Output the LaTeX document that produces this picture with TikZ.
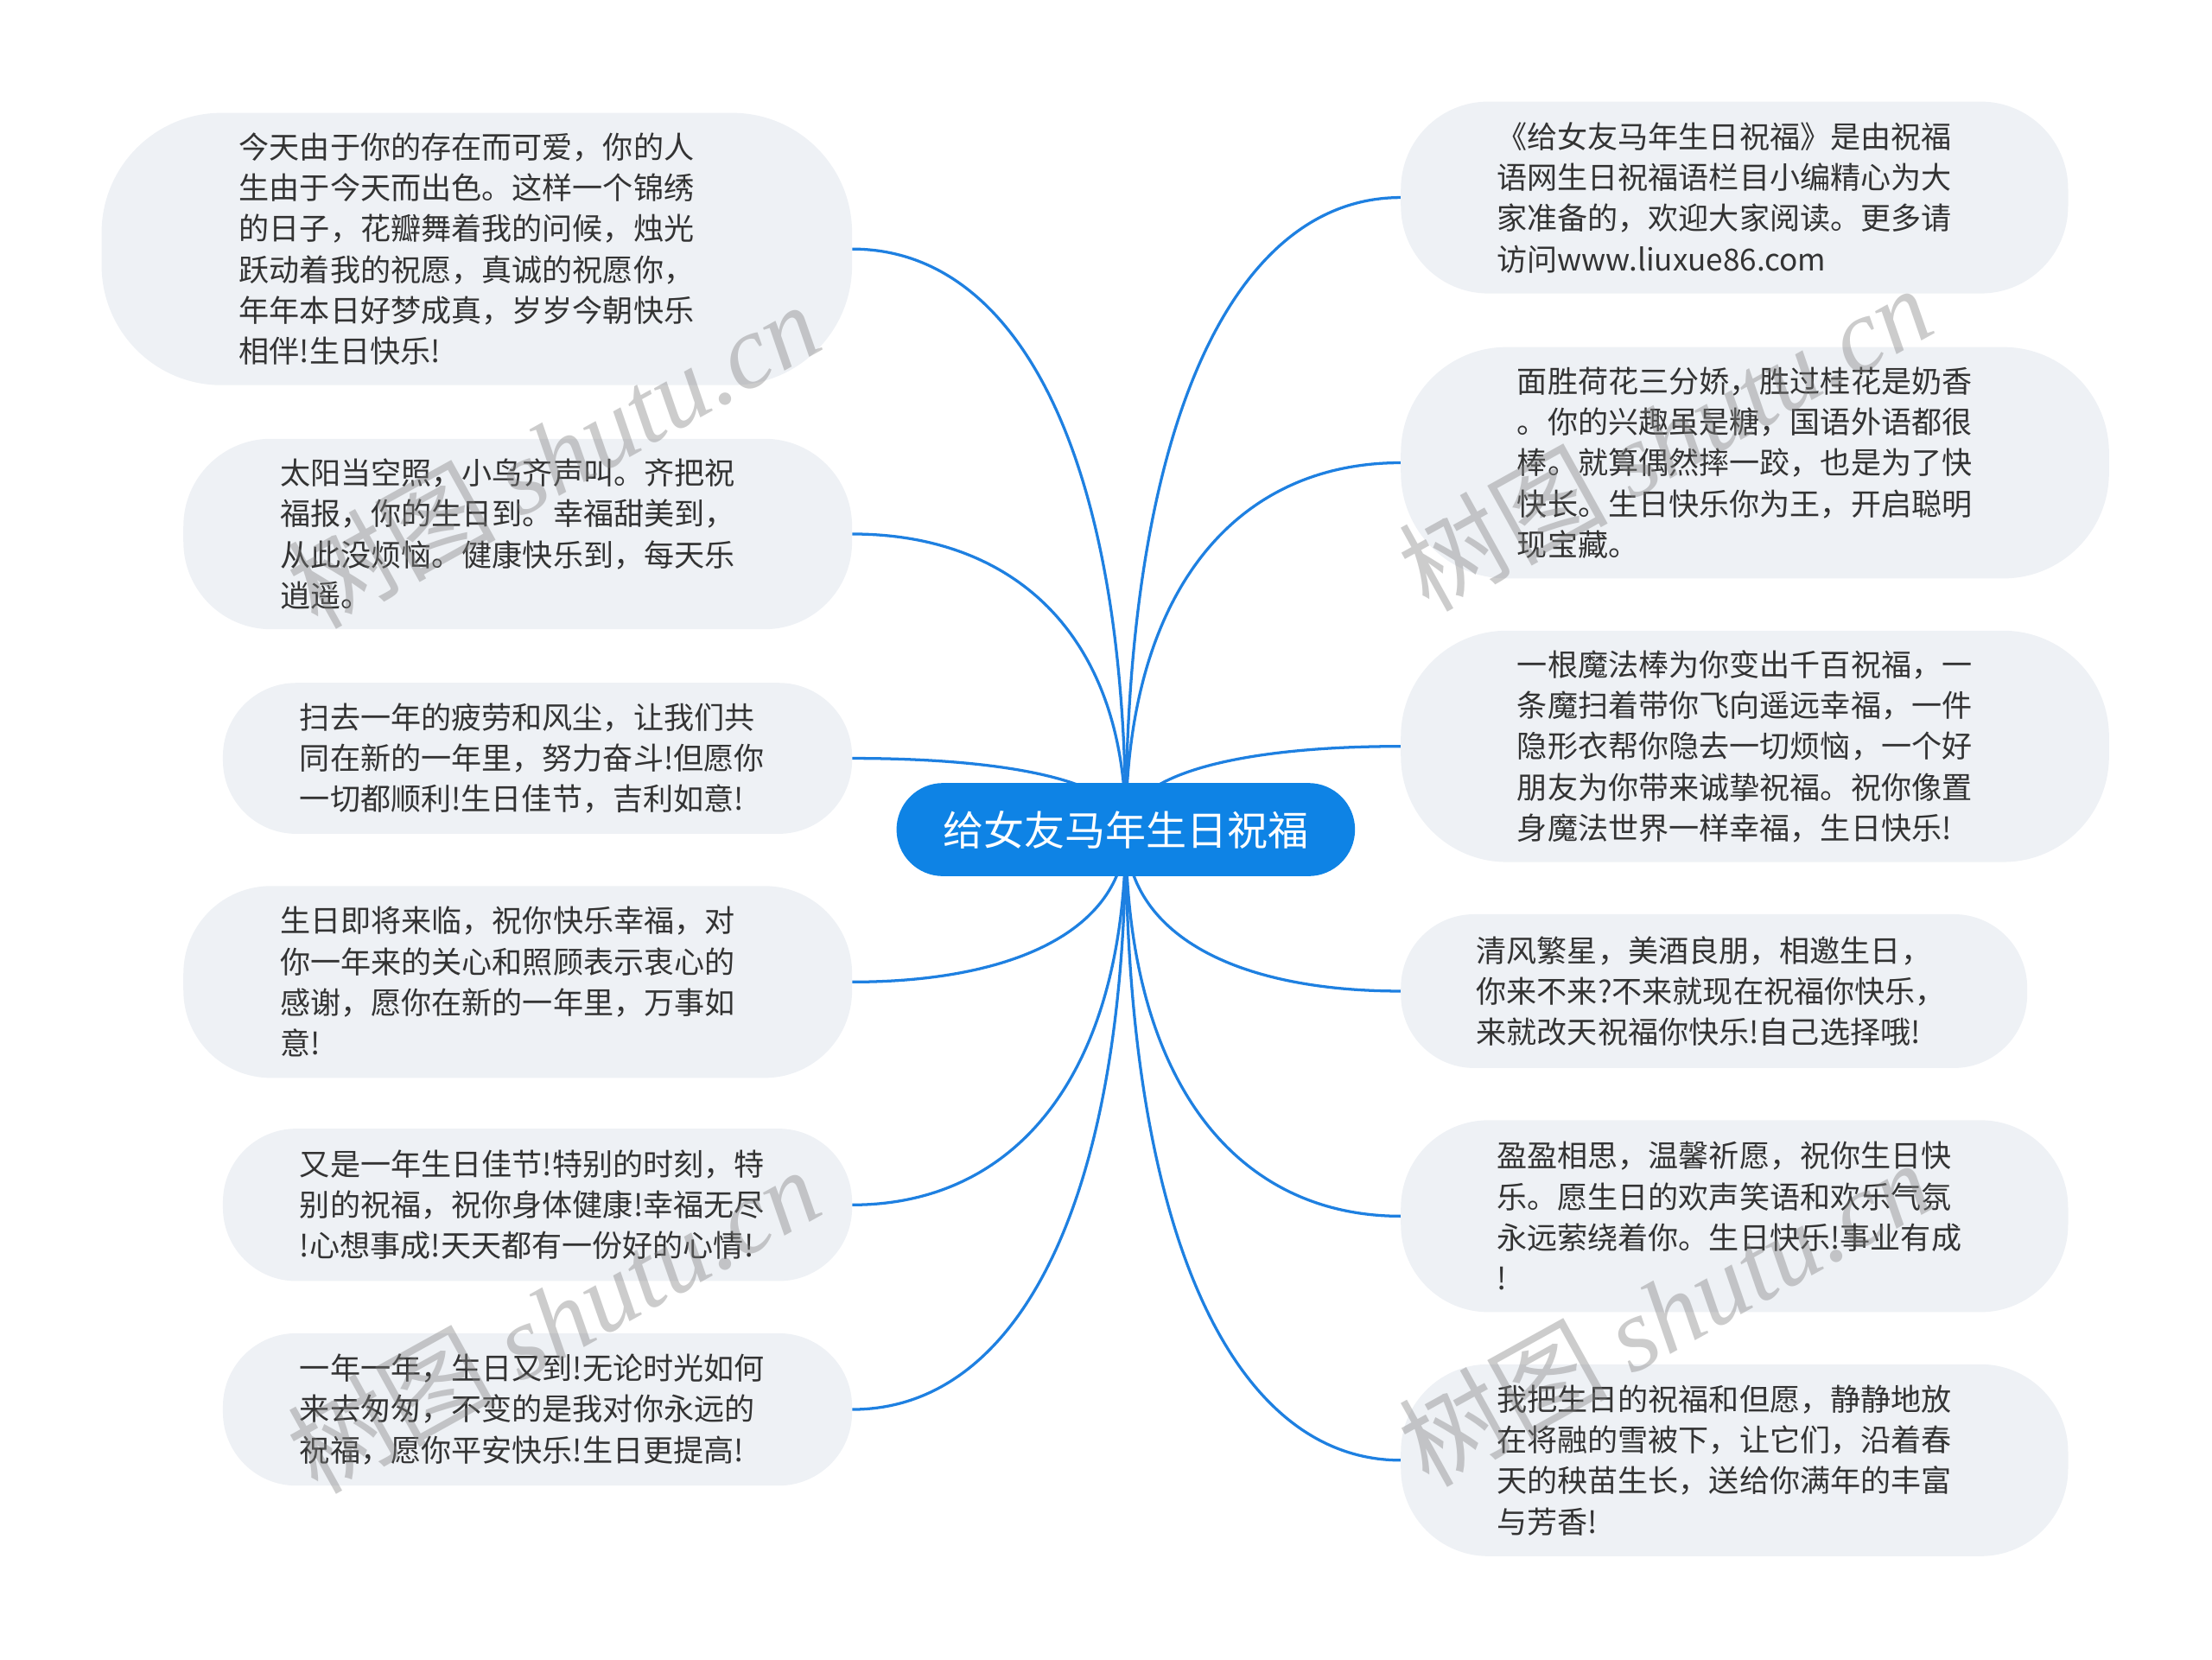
\documentclass[tikz,border=0pt]{standalone}
\usepackage{fontspec}
\setmainfont{Noto Sans CJK SC}
\newfontfamily\wmlatin{Liberation Serif}
\usetikzlibrary{calc}
\definecolor{nodefill}{RGB}{238,241,245}
\definecolor{mainblue}{RGB}{14,131,229}
\definecolor{linkblue}{RGB}{30,128,225}
\definecolor{txt}{RGB}{51,51,51}
\tikzset{
  leaf/.style={draw=none, fill=nodefill, rounded corners=#1, align=left, text=txt, text width=337,
    font=\fontsize{21.5}{29}\selectfont, inner sep=0pt},
  rootbox/.style={fill=mainblue, rounded corners=33, text=white, minimum width=325, minimum height=66,
    font=\fontsize{28.8}{34}\selectfont, inner sep=0pt},
  link/.style={draw=linkblue, line width=2pt},
  wm/.style={text=gray, opacity=0.4, rotate=29, font=\fontsize{74}{80}\selectfont, inner sep=0pt}
}
\newcommand\linkto[1]{\draw[link] (c) .. controls ($(c)!0.65!(c|-#1)$) and ($(#1)!0.6!(#1-|c)$) .. (#1);}
\begin{document}
\begin{tikzpicture}[x=1pt,y=-1pt]
\useasboundingbox (0,0) rectangle (1568,1176);
\coordinate (c) at (798,588);
% left nodes
\node[leaf=85, minimum width=532, minimum height=193] (L1) at (338,176.5) {今天由于你的存在而可爱，你的人\\生由于今天而出色。这样一个锦绣\\的日子，花瓣舞着我的问候，烛光\\跃动着我的祝愿，真诚的祝愿你，\\年年本日好梦成真，岁岁今朝快乐\\相伴!生日快乐!};
\node[leaf=62, minimum width=474, minimum height=135] (L2) at (367,378.5) {太阳当空照，小鸟齐声叫。齐把祝\\福报，你的生日到。幸福甜美到，\\从此没烦恼。健康快乐到，每天乐\\逍遥。};
\node[leaf=52, minimum width=446, minimum height=107] (L3) at (381,537.5) {扫去一年的疲劳和风尘，让我们共\\同在新的一年里，努力奋斗!但愿你\\一切都顺利!生日佳节，吉利如意!};
\node[leaf=62, minimum width=474, minimum height=136] (L4) at (367,696) {生日即将来临，祝你快乐幸福，对\\你一年来的关心和照顾表示衷心的\\感谢，愿你在新的一年里，万事如\\意!};
\node[leaf=52, minimum width=446, minimum height=108] (L5) at (381,854) {又是一年生日佳节!特别的时刻，特\\别的祝福，祝你身体健康!幸福无尽\\!心想事成!天天都有一份好的心情!};
\node[leaf=52, minimum width=446, minimum height=108] (L6) at (381,999) {一年一年，生日又到!无论时光如何\\来去匆匆，不变的是我对你永远的\\祝福，愿你平安快乐!生日更提高!};
% right nodes
\node[leaf=62, minimum width=473, minimum height=136] (R1) at (1229.5,140) {《给女友马年生日祝福》是由祝福\\语网生日祝福语栏目小编精心为大\\家准备的，欢迎大家阅读。更多请\\访问www.liuxue86.com};
\node[leaf=75, minimum width=502, minimum height=164] (R2) at (1244,328) {面胜荷花三分娇，胜过桂花是奶香\\。你的兴趣虽是糖，国语外语都很\\棒。就算偶然摔一跤，也是为了快\\快长。生日快乐你为王，开启聪明\\现宝藏。};
\node[leaf=75, minimum width=502, minimum height=164] (R3) at (1244,529) {一根魔法棒为你变出千百祝福，一\\条魔扫着带你飞向遥远幸福，一件\\隐形衣帮你隐去一切烦恼，一个好\\朋友为你带来诚挚祝福。祝你像置\\身魔法世界一样幸福，生日快乐!};
\node[leaf=52, minimum width=444, minimum height=109] (R4) at (1215,702.5) {清风繁星，美酒良朋，相邀生日，\\你来不来?不来就现在祝福你快乐，\\来就改天祝福你快乐!自己选择哦!};
\node[leaf=62, minimum width=473, minimum height=136] (R5) at (1229.5,862) {盈盈相思，温馨祈愿，祝你生日快\\乐。愿生日的欢声笑语和欢乐气氛\\永远萦绕着你。生日快乐!事业有成\\!};
\node[leaf=62, minimum width=473, minimum height=136] (R6) at (1229.5,1035) {我把生日的祝福和但愿，静静地放\\在将融的雪被下，让它们，沿着春\\天的秧苗生长，送给你满年的丰富\\与芳香!};
% connectors
\linkto{L1.east}\linkto{L2.east}\linkto{L3.east}\linkto{L4.east}\linkto{L5.east}\linkto{L6.east}
\linkto{R1.west}\linkto{R2.west}\linkto{R3.west}\linkto{R4.west}\linkto{R5.west}\linkto{R6.west}
% root
\node[rootbox] (root) at (c) {给女友马年生日祝福};
% watermarks
\node[wm] (wm1) at (392,322) {树图 {\wmlatin\itshape shutu.cn}};
\node[wm] (wm2) at (1180,310) {树图 {\wmlatin\itshape shutu.cn}};
\node[wm] (wm3) at (392,935) {树图 {\wmlatin\itshape shutu.cn}};
\node[wm] (wm4) at (1180,930) {树图 {\wmlatin\itshape shutu.cn}};
\end{tikzpicture}
\end{document}
